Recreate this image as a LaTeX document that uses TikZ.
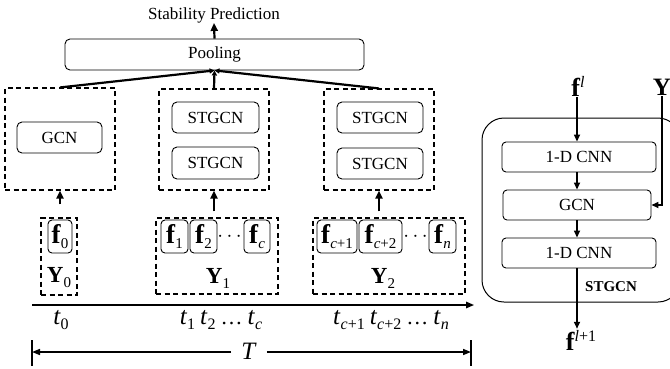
\documentclass[tikz,border=0pt]{standalone}
\usepackage{fontspec}
\setmainfont{Liberation Serif}
\usetikzlibrary{arrows.meta,calc}
\newcommand{\lbl}{\fontsize{17}{20}\selectfont}
\newcommand{\fsubx}[1]{{\fontsize{27}{27}\selectfont\textbf{f}}\raisebox{-5pt}{\fontsize{15}{15}\selectfont #1}}
\newcommand{\Ysubx}[1]{{\fontsize{23}{23}\selectfont\textbf{Y}}\raisebox{-5pt}{\fontsize{15}{15}\selectfont #1}}
\newcommand{\tsubx}[1]{{\fontsize{25}{25}\selectfont\textit{t}}\raisebox{-5pt}{\fontsize{16}{16}\selectfont #1}}
\begin{document}
\begin{tikzpicture}[x=1pt,y=-1pt,
  box/.style={draw, rounded corners=5pt, line width=0.9pt, inner sep=0pt, font=\lbl},
  sbox/.style={draw, rounded corners=4pt, line width=0.9pt, inner sep=0pt},
  dbox/.style={draw, dash pattern=on 5pt off 3.5pt, line width=1.1pt, inner sep=0pt},
  arr/.style={line width=1.6pt, -{Triangle[length=7pt,width=6pt]}},
  uarr/.style={line width=2.2pt, -{Triangle[length=8pt,width=7pt]}},
  parr/.style={line width=2.2pt, -{Triangle[length=5pt,width=5pt]}},
  txt/.style={inner sep=0pt, font=\lbl},
  tlab/.style={inner sep=0pt, font=\fontsize{20}{20}\selectfont}]
\clip (0,0) rectangle (670,368);

% top
\node[txt] (sp) at (214,15) {Stability Prediction};
\node[box, minimum width=299pt, minimum height=31pt] (pool) at (214.5,54.5) {Pooling};

% dashed module boxes
\node[dbox, minimum width=110pt, minimum height=102pt] (A) at (60,139) {};
\node[dbox, minimum width=110pt, minimum height=101pt] (B) at (214,139.5) {};
\node[dbox, minimum width=110pt, minimum height=101pt] (C) at (379,139.5) {};

\node[box, minimum width=85pt, minimum height=31pt] (gcnA) at (59.5,137.5) {GCN};
\node[box, minimum width=87pt, minimum height=31pt] (b1) at (215.5,117.5) {STGCN};
\node[box, minimum width=87pt, minimum height=32pt] (b2) at (215.5,163) {STGCN};
\node[box, minimum width=86pt, minimum height=31pt] (c1) at (380,117.5) {STGCN};
\node[box, minimum width=86pt, minimum height=31pt] (c2) at (380,163.5) {STGCN};

% input groups
\node[dbox, minimum width=36pt, minimum height=77pt] (Y0d) at (59,256.5) {};
\node[dbox, minimum width=122pt, minimum height=76pt] (Y1d) at (217,256) {};
\node[dbox, minimum width=152pt, minimum height=76pt] (Y2d) at (389,256) {};

\node[sbox, minimum width=24pt, minimum height=33pt] (f0) at (60,236.5) {\fsubx{0}};
\node[sbox, minimum width=27pt, minimum height=33pt] (f1) at (174.5,236.5) {\fsubx{1}};
\node[sbox, minimum width=27pt, minimum height=33pt] (f2) at (203.5,236.5) {\fsubx{2}};
\node[inner sep=0pt, font=\fontsize{20}{20}\selectfont] (d1) at (229.5,237) {$\cdots$};
\node[sbox, minimum width=26pt, minimum height=33pt] (fc) at (257,236.5) {\fsubx{\textit{c}}};
\node[sbox, minimum width=40pt, minimum height=33pt] (fc1) at (337,236.5) {\fsubx{\textit{c}+1}};
\node[sbox, minimum width=43pt, minimum height=33pt] (fc2) at (380.5,236.5) {\fsubx{\textit{c}+2}};
\node[inner sep=0pt, font=\fontsize{20}{20}\selectfont] (d2) at (415.5,237) {$\cdots$};
\node[sbox, minimum width=27pt, minimum height=33pt] (fn) at (442.5,236.5) {\fsubx{\textit{n}}};

\node[inner sep=0pt] (Y0) at (59,278) {\Ysubx{0}};
\node[inner sep=0pt] (Y1) at (218,278) {\Ysubx{1}};
\node[inner sep=0pt] (Y2) at (383,278) {\Ysubx{2}};

% arrows
\draw[uarr, shorten <=13pt] (A.south |- Y0d.north) -- (A.south);
\draw[uarr, shorten <=6pt] (B.south |- Y1d.north) -- (B.south);
\draw[uarr, shorten <=6pt] (C.south |- Y2d.north) -- (C.south);
\draw[parr] (A.north) -- (pool.south);
\draw[parr] (B.north) -- (pool.south);
\draw[parr] (C.north) -- (pool.south);
\draw[uarr] (pool.north) -- (sp.south);

% time axis
\coordinate (ax0) at (32,305);
\coordinate (ax1) at (474,305);
\draw[line width=1.5pt, -{Triangle[length=8pt,width=6.5pt]}] (ax0) -- (ax1);
\node[tlab] (t0) at (61,320) {\tsubx{0}};
\node[tlab] (t1) at (221,320) {\tsubx{1} \tsubx{2} {\fontsize{22}{22}\selectfont\dots} \tsubx{\textit{c}}};
\node[tlab] (t2) at (391,320) {\tsubx{\textit{c}+1} \tsubx{\textit{c}+2} {\fontsize{22}{22}\selectfont\dots} \tsubx{\textit{n}}};

\node[inner xsep=10pt, inner ysep=0pt] (T) at (249,351) {\fontsize{25}{25}\selectfont\textit{T}};
\coordinate (TL) at (32,352);
\coordinate (TR) at (471,352);
\draw[line width=1.5pt] (32,340) -- (32,366);
\draw[line width=1.5pt] (471,340) -- (471,366);
\draw[line width=1.5pt, -{Triangle[length=8pt,width=6pt]}] (T.west |- TL) -- (TL);
\draw[line width=1.5pt, -{Triangle[length=8pt,width=6pt]}] (T.east |- TR) -- (TR);

% STGCN block detail
\draw[line width=1pt, rounded corners=22pt] (482,118) rectangle (680,302);
\node[box, rounded corners=4pt, minimum width=154pt, minimum height=30pt] (cnn1) at (579,157) {1-D CNN};
\node[box, rounded corners=4pt, minimum width=148pt, minimum height=30pt] (gcnR) at (577,205) {GCN};
\node[box, rounded corners=4pt, minimum width=154pt, minimum height=30pt] (cnn2) at (579,253) {1-D CNN};
\node[inner sep=1pt] (fl) at (578,86) {{\fontsize{26}{26}\selectfont\textbf{f}}\raisebox{9pt}{\fontsize{16}{16}\selectfont\textit{l}}};
\node[inner sep=1pt] (fl1) at (581,340) {{\fontsize{26}{26}\selectfont\textbf{f}}\raisebox{9pt}{\fontsize{16}{16}\selectfont\textit{l}+1}};
\node[inner sep=1pt] (Yr) at (662,87) {{\fontsize{25}{25}\selectfont\textbf{Y}}};
\node[inner sep=0pt, font=\fontsize{15}{15}\selectfont\bfseries] (stl) at (611,287) {STGCN};

\draw[arr] (fl.south -| gcnR.north) -- (gcnR.north |- cnn1.north);
\draw[arr] (cnn1.south -| gcnR.north) -- (gcnR.north);
\draw[arr] (gcnR.south) -- (gcnR.south |- cnn2.north);
\draw[arr] (cnn2.south -| gcnR.south) -- (gcnR.south |- fl1.north);
\draw[arr] (Yr.south) |- (gcnR.east);
\end{tikzpicture}
\end{document}
